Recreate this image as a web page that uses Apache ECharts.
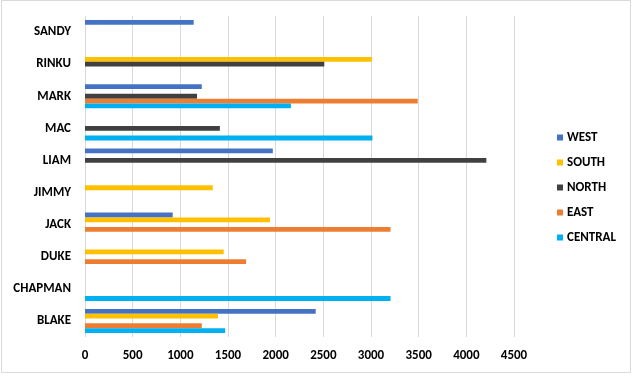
<!DOCTYPE html>
<html>
<head>
<meta charset="utf-8">
<script src="https://cdn.jsdelivr.net/npm/echarts@6/dist/echarts.min.js"></script>
<style>
  html, body { margin: 0; padding: 0; background: #fff; }
  #main { width: 633px; height: 376px; }
</style>
</head>
<body>
<div id="main"></div>
<script>
var names = ['BLAKE', 'CHAPMAN', 'DUKE', 'JACK', 'JIMMY', 'LIAM', 'MAC', 'MARK', 'RINKU', 'SANDY'];
var seriesNames = ['WEST', 'SOUTH', 'NORTH', 'EAST', 'CENTRAL'];
var west    = [2420, null, null, 920, null, 1970, null, 1225, null, 1140];
var south   = [1395, null, 1455, 1940, 1340, null, null, null, 3010, null];
var north   = [null, null, null, null, null, 4210, 1415, 1175, 2510, null];
var east    = [1225, null, 1690, 3205, null, null, null, 3490, null, null];
var central = [1470, 3205, null, null, null, null, 3015, 2160, null, null];
var xTicks = [0, 500, 1000, 1500, 2000, 2500, 3000, 3500, 4000, 4500];

var colors = { WEST: '#4472C4', SOUTH: '#FFC000', NORTH: '#404040', EAST: '#ED7D31', CENTRAL: '#00B0F0' };
var values = { WEST: west, SOUTH: south, NORTH: north, EAST: east, CENTRAL: central };

var chart = echarts.init(document.getElementById('main'));

var series = seriesNames.map(function (n) {
  return {
    name: n,
    type: 'bar',
    data: values[n],
    itemStyle: { color: colors[n] },
    barGap: '0%',
    barCategoryGap: '25%'
  };
});

chart.setOption({
  animation: false,
  textStyle: { fontFamily: 'Carlito, "Open Sans", sans-serif' },
  graphic: [{
    type: 'rect',
    shape: { x: 1.5, y: 0.5, width: 629, height: 372 },
    style: { fill: 'none', stroke: '#d9d9d9', lineWidth: 1 },
    silent: true
  }],
  legend: {
    orient: 'vertical',
    left: 552,
    top: 126,
    itemWidth: 6,
    itemHeight: 6,
    itemGap: 12,
    icon: 'rect',
    data: seriesNames,
    textStyle: { color: '#000', fontSize: 13, fontWeight: 'bold', padding: [0, 0, 0, -1] }
  },
  grid: { left: 85, right: 119, top: 16, bottom: 39, containLabel: false },
  xAxis: {
    type: 'value',
    min: xTicks[0],
    max: xTicks[xTicks.length - 1],
    interval: 500,
    axisLine: { show: false },
    axisTick: { show: false },
    splitLine: { lineStyle: { color: '#d9d9d9', width: 1 } },
    axisLabel: { color: '#000', fontSize: 13, fontWeight: 'bold', margin: 12, formatter: function (v) { return String(v); } }
  },
  yAxis: {
    type: 'category',
    data: names,
    axisLine: { show: false },
    axisTick: { show: false },
    axisLabel: { color: '#000', fontSize: 13, fontWeight: 'bold', margin: 14 }
  },
  series: series
});
</script>
</body>
</html>
